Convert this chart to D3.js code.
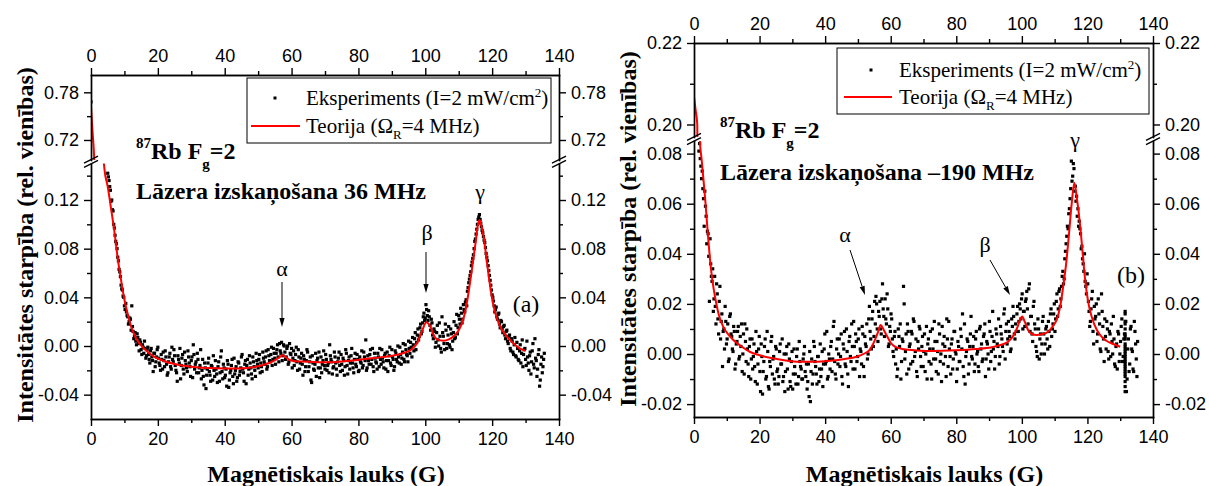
<!DOCTYPE html>
<html>
<head>
<meta charset="utf-8">
<script src="https://cdn.jsdelivr.net/npm/d3@7"></script>
<style>
  body { margin: 0; background: #fff; }
  svg { display: block; }
  text { font-family: "Liberation Serif", "Times New Roman", serif; fill: #000; }
  .tick text { font-family: "Liberation Sans", Arial, sans-serif; font-size: 18px; }
</style>
</head>
<body>
<svg id="fig" width="1209" height="486"></svg>
<script>
// ---------- shared axis ticks ----------
const fieldTicks = [0, 20, 40, 60, 80, 100, 120, 140];
const fieldMinorTicks = [10, 30, 50, 70, 90, 110, 130];

// ---------- panel (a): detuning 36 MHz ----------
const upperTicksA = [0.72, 0.78];
const upperMinorA = [0.75];
const lowerTicksA = [-0.04, 0.00, 0.04, 0.08, 0.12];
const lowerMinorA = [-0.02, 0.02, 0.06, 0.10, 0.14];

// theory curve, [field G, signal]
const theoryA = [
  [0, 0.762], [0.5, 0.728], [1, 0.69], [1.5, 0.56], [2, 0.43], [2.5, 0.32], [3, 0.235], [3.5, 0.168],
  [4, 0.146], [5, 0.131], [6, 0.113], [7, 0.094], [8, 0.072], [9, 0.054], [10, 0.038], [11, 0.026],
  [12, 0.016], [13, 0.009], [14, 0.004], [15, 0.0005], [17, -0.005], [19, -0.009], [22, -0.0125],
  [25, -0.0148], [30, -0.017], [35, -0.018], [40, -0.0184], [44, -0.0184], [48, -0.0176], [51, -0.016],
  [53, -0.0142], [55, -0.0118], [56.5, -0.009], [57.3, -0.0077], [58.3, -0.0092], [59.5, -0.0115],
  [61, -0.0125], [65, -0.0129], [71, -0.0134], [78, -0.012], [85, -0.0098], [90, -0.008], [93, -0.0062],
  [95.5, -0.0035], [97.5, 0.002], [99, 0.012], [100.3, 0.0195], [101.5, 0.016], [102.5, 0.009],
  [103.5, 0.0055], [105.5, 0.0044], [107, 0.0055], [108.5, 0.008], [110, 0.013], [111, 0.019],
  [112, 0.029], [113, 0.045], [114, 0.064], [115, 0.084], [115.7, 0.099], [116.2, 0.1035], [116.8, 0.099],
  [117.5, 0.089], [118.3, 0.072], [119, 0.057], [120, 0.039], [120.5, 0.032], [121.5, 0.022], [123, 0.013],
  [124.5, 0.0075], [126.4, 0.002], [128, -0.0015], [130, -0.004]
];

// two interleaved field sweeps: first field value, field step (G), signal in 1e-3 rel. units
const sweepStartA1 = 5.0, sweepStartA2 = 5.2;
const sweepStepA = 0.4;
const signalA1 = [
  142,136,128,120,111,97,86,80,70,61,
  50,46,40,30,28,24,20,22,33,12,
  8,4,10,2,5,-3,1,-6,-2,-8,
  -1,-11,-4,-9,-21,-6,-13,-3,-10,-16,
  -7,-19,-12,-4,-15,-22,-9,-17,-1,-13,
  -8,-20,-29,-11,-2,-16,-7,-23,-12,-18,
  -4,-14,-25,-9,1,-19,-13,-6,-22,-16,
  -27,-11,-32,-18,-24,-14,-21,-29,-17,-8,
  -25,-19,-30,-13,-22,-4,-27,-18,-24,-33,
  -15,-28,-20,-11,-31,-23,-17,-26,-14,-21,
  -9,-19,-29,-12,-16,-24,-8,-18,-27,-13,
  -20,-6,-15,-11,-22,-17,-5,-13,-9,-19,
  -3,-12,-7,-16,-2,-10,-6,1,-13,-4,
  3,-8,0,-11,-2,-15,2,-7,-18,-4,
  -12,-1,-20,-9,-14,-6,-24,-11,-17,-3,
  -21,-13,-28,-8,-19,-15,-25,-10,-5,-18,
  -22,-12,-16,-7,-20,-14,1,-11,-23,-17,
  -9,-19,-13,-5,-21,-15,-10,-24,-3,-16,
  -12,-19,-8,-14,-22,-6,-17,-11,-20,-13,
  -4,-16,-9,5,-18,-12,-7,-15,-2,-21,
  -10,-14,-6,-17,-11,-3,-13,-8,-19,-5,
  -12,-1,-16,-9,-20,-4,-11,0,-14,-7,
  -10,2,-13,-3,-8,4,-6,-1,7,-4,
  11,3,14,8,18,12,24,21,34,25,
  29,17,22,9,14,-1,11,5,19,-2,
  24,8,-3,13,2,16,-1,10,4,20,
  7,26,15,22,31,19,34,28,38,45,
  52,58,66,72,80,88,96,104,108,101,
  95,90,85,76,70,62,54,46,40,33,
  30,24,26,18,21,14,16,9,12,4,
  8,-2,6,-5,1,-8,3,-11,-4,-14,
  5,-7,-2,-16,-9,-20,-5,-13,2,-18,
  -10,-25,-7,-33,-15,-22,-11
];
const signalA2 = [
  139,131,119,112,100,91,84,73,63,57,
  47,41,33,35,25,18,23,13,16,6,
  11,1,7,-4,3,-7,-1,4,-10,-3,
  -7,-14,-2,-12,-6,-17,-9,-1,-14,-20,
  -11,-5,-17,-9,-24,-13,-6,-19,-11,-3,
  -16,-22,-8,-14,-27,-10,-19,-5,-15,-21,
  -9,-17,-12,-26,-7,-15,-22,-11,-18,-3,
  -20,-25,-14,-35,-19,-10,-24,-16,-28,-20,
  -12,-23,-17,-29,-9,-21,-15,-26,-19,-12,
  -34,-22,-16,-25,-10,-20,-29,-13,-24,-18,
  -7,-22,-15,-31,-11,-19,-14,-23,-9,-17,
  -25,-12,-18,-7,-14,-21,-10,-15,-4,-17,
  -8,-13,-1,-11,-6,-15,-3,-9,2,-6,
  -12,1,-5,-9,0,-13,-6,-2,-10,-16,
  -7,-13,-3,-19,-10,-15,-8,-21,-12,-5,
  -17,-9,-30,-14,-20,-6,-12,-18,-26,-9,
  -15,-4,-19,-11,-16,-22,-8,-13,-18,-5,
  -14,-24,-10,-16,-7,-20,-12,-17,-6,-23,
  -9,-14,-2,-18,-11,-15,-7,-21,-9,-14,
  -18,-5,-12,-20,-8,-15,-3,-11,-17,-6,
  -13,-19,-9,-2,-15,-10,-18,-6,-12,-21,
  -8,-14,-3,-11,-17,-6,-13,-9,-1,-15,
  -5,-11,1,-7,-13,-2,3,-9,1,6,
  -3,9,5,15,10,19,27,23,30,21,
  24,13,19,6,12,3,17,0,8,-5,
  11,2,18,-2,9,1,14,-3,11,6,
  17,10,25,18,27,22,30,36,33,48,
  55,61,69,75,86,92,100,106,104,98,
  93,87,81,73,66,58,50,42,37,28,
  32,22,27,15,20,11,17,6,13,2,
  9,-4,4,-7,7,-9,-2,-12,1,-6,
  -17,-3,-11,4,-14,-8,-23,-4,-15,6,
  -12,-19,-3,-28,-9,-17,-6
];
// points of panel (a) that lie above the axis break, [field G, signal]
const extraPointsA = [[0, 0.768]];

// ---------- panel (b): detuning -190 MHz ----------
const upperTicksB = [0.20, 0.22];
const upperMinorB = [0.21];
const lowerTicksB = [-0.02, 0.00, 0.02, 0.04, 0.06, 0.08];
const lowerMinorB = [-0.01, 0.01, 0.03, 0.05, 0.07];

const theoryB = [
  [0, 0.2068], [0.5, 0.2035], [1, 0.2], [1.3, 0.16], [1.8, 0.085], [2.3, 0.078], [2.8, 0.0708],
  [3.4, 0.062], [3.9, 0.0535], [4.4, 0.045], [4.9, 0.0375], [5.6, 0.0295], [6.4, 0.0229], [7.5, 0.016],
  [8.9, 0.0109], [10.5, 0.0077], [12, 0.0056], [14.5, 0.003], [17, 0.0009], [20, -0.0005], [24, -0.0017],
  [28, -0.0026], [32, -0.0031], [37, -0.0031], [41.5, -0.0027], [46, -0.002], [49.6, -0.0011], [52, 0.0002],
  [53.5, 0.0015], [55.2, 0.0056], [56.2, 0.009], [56.9, 0.0116], [57.8, 0.0098], [58.7, 0.0076], [60, 0.0045],
  [61.3, 0.0029], [64, 0.0019], [68, 0.0014], [72, 0.0012], [80, 0.0015], [86, 0.002], [90.8, 0.0027],
  [94, 0.0038], [95.8, 0.0049], [97.5, 0.0075], [98.6, 0.0105], [99.5, 0.0138], [100.1, 0.015],
  [100.9, 0.0128], [101.9, 0.0096], [103, 0.008], [104.5, 0.0076], [106, 0.0079], [108, 0.0089],
  [109.5, 0.0112], [110.6, 0.0136], [111.7, 0.019], [112.6, 0.0269], [113.5, 0.036], [114.3, 0.0468],
  [115.2, 0.06], [116, 0.0684], [116.8, 0.062], [117.7, 0.0522], [118.5, 0.041], [119.2, 0.0309],
  [120.2, 0.021], [121.3, 0.0149], [122.8, 0.0098], [124.3, 0.0069], [125.8, 0.0053], [127.3, 0.0043],
  [130, 0.0029]
];

const sweepStartB1 = 1.5, sweepStartB2 = 1.7;
const sweepStepB = 0.4;
const signalB1 = [
  81,78,70,66,51,59,44,48,21,36,
  29,17,31,12,24,8,27,13,-5,10,
  19,4,12,-2,16,7,1,9,-4,5,
  11,-1,3,-7,8,12,-3,2,-9,6,
  -2,-6,4,-11,1,-4,7,-15,-1,-7,
  3,-10,9,-13,-3,5,-8,-1,-12,2,
  -6,-9,4,-4,-11,0,-7,3,-14,-2,
  -13,1,-8,-5,-12,2,-9,-3,-6,-10,
  0,-7,-4,-11,-17,-19,-2,-8,3,-5,
  -12,-1,-6,-9,1,-4,8,-3,-10,0,
  -6,5,-2,13,-8,2,-4,6,-1,-9,
  4,9,-5,1,-13,7,-3,3,13,-6,
  5,-1,10,2,-4,8,-9,4,12,0,
  19,6,14,3,21,23,10,17,21,8,
  28,15,22,12,18,4,9,14,1,7,
  -4,-9,10,3,-10,6,27,-2,8,12,
  -6,4,9,-3,13,1,-7,5,11,-1,
  3,-5,8,0,-10,6,2,-4,10,-2,
  5,-7,1,12,-3,-11,4,7,-1,14,
  -5,2,-8,6,-2,9,0,-6,3,-3,
  7,16,-9,-12,1,5,-4,8,-1,3,
  -7,6,0,-5,10,2,-3,7,12,-2,
  4,-6,9,1,17,5,-1,8,3,-4,
  11,6,1,18,9,4,13,7,2,11,
  15,6,9,19,13,18,22,10,17,21,
  25,12,28,15,8,19,12,3,-1,10,
  6,0,13,8,4,11,2,9,16,7,
  12,20,14,24,18,26,22,31,28,38,
  44,51,56,62,77,71,74,67,63,58,
  53,48,43,36,40,27,32,21,11,18,
  25,4,14,20,8,16,2,24,11,-3,
  7,13,1,9,-1,5,15,-4,3,-6,
  8,0,11,-3,6,17,-15,2,-7,10,
  2,-6,13,4,-9
];
const signalB2 = [
  84,75,73,62,65,55,49,39,46,31,
  34,22,19,28,14,21,6,16,9,2,
  13,6,-3,15,8,2,11,-6,4,9,
  -2,7,12,0,-8,5,10,-4,3,-10,
  6,-1,-5,9,-12,2,-7,4,-16,-3,
  6,-9,1,-14,-5,7,-2,-10,3,-7,
  -12,1,-4,6,-9,-15,0,-6,4,-11,
  -3,-14,2,-8,-1,-12,5,-5,-10,-2,
  3,-9,-14,-4,1,-7,-12,5,-3,-8,
  -1,-11,4,-6,-13,2,-4,9,-9,-2,
  3,-7,11,-3,-10,6,0,-5,8,-12,
  2,-4,10,-8,5,-1,12,-6,3,8,
  -3,6,-9,1,11,-5,7,3,-2,14,
  9,2,17,7,12,20,5,15,10,22,
  18,7,14,24,3,11,16,6,-1,9,
  2,-6,7,12,-3,5,20,1,-8,9,
  3,-4,8,14,-1,6,-9,2,10,-5,
  7,1,-7,11,4,-3,9,-10,2,13,
  -2,5,-8,8,0,11,-4,3,-9,6,
  13,-1,4,-6,9,1,-11,5,-3,10,
  2,-5,12,-1,6,-8,3,15,-2,7,
  -4,9,1,-7,11,4,-2,8,-9,5,
  0,13,-3,7,2,-6,10,4,14,-1,
  8,3,16,-2,12,6,9,1,14,19,
  8,12,16,9,20,14,24,17,11,22,
  18,26,9,15,5,21,10,1,14,-2,
  8,4,15,0,10,6,13,3,18,10,
  16,9,21,15,25,19,27,33,30,41,
  47,50,58,66,69,76,65,61,55,51,
  50,42,38,33,29,24,28,17,13,22,
  9,19,15,5,22,12,1,17,6,14,
  2,10,-2,8,12,0,6,-5,4,9,
  -3,5,14,-1,8,13,-10,6,-4,11,
  1,-7,9,-2,5
];
// repeated readings taken at a single field value near the end of the sweep
const columnFieldB = 131.5;
const columnSignalB = [16,13,10,8,6,4,3,1,0,-1,-2,-4,-5,-6,-8,-9,-11,-13,12,7,2,-3,-7,-15];

const signalUnit = 1e-3;

const sweepPoints = (signal, start, step) => signal.map((v, i) => [start + i * step, v * signalUnit]);
const pointsA = sweepPoints(signalA1, sweepStartA1, sweepStepA)
  .concat(sweepPoints(signalA2, sweepStartA2, sweepStepA), extraPointsA);
const pointsB = sweepPoints(signalB1, sweepStartB1, sweepStepB)
  .concat(sweepPoints(signalB2, sweepStartB2, sweepStepB), columnSignalB.map(v => [columnFieldB, v * signalUnit]));

// ---------- drawing ----------
const svg = d3.select("#fig");
const defs = svg.append("defs");
const fmt2 = v => v.toFixed(2);
const markerSize = 3.2;

function styleAxis(sel) {
  sel.selectAll("path, line").attr("stroke", "#000").attr("stroke-width", 1.4);
  sel.select(".domain").attr("stroke-linecap", "square");
}

function drawPanel(p) {
  const g = svg.append("g");
  const x = d3.scaleLinear().domain([0, 140]).range([p.left, p.right]);
  const yU = d3.scaleLinear().domain(p.upperDomain).range([p.upperBottom, p.top]);
  const yL = d3.scaleLinear().domain(p.lowerDomain).range([p.bottom, p.lowerTop]);

  defs.append("clipPath").attr("id", "clipU-" + p.id).append("rect")
    .attr("x", p.left).attr("y", p.top).attr("width", p.right - p.left).attr("height", p.upperBottom - p.top);
  defs.append("clipPath").attr("id", "clipL-" + p.id).append("rect")
    .attr("x", p.left).attr("y", p.lowerTop).attr("width", p.right - p.left).attr("height", p.bottom - p.lowerTop);

  // data in each axis segment
  [[yU, "clipU-"], [yL, "clipL-"]].forEach(([y, c]) => {
    const layer = g.append("g").attr("clip-path", `url(#${c}${p.id})`);
    layer.selectAll("rect").data(p.points).join("rect")
      .attr("x", d => x(d[0]) - markerSize / 2).attr("y", d => y(d[1]) - markerSize / 2)
      .attr("width", markerSize).attr("height", markerSize).attr("fill", "#000");
    layer.append("path").datum(p.theory)
      .attr("d", d3.line().x(d => x(d[0])).y(d => y(d[1])).curve(d3.curveMonotoneX))
      .attr("fill", "none").attr("stroke", "#ff0000").attr("stroke-width", 2);
  });

  // horizontal axes
  g.append("g").attr("transform", `translate(0,${p.bottom})`)
    .call(d3.axisBottom(x).tickValues(fieldMinorTicks).tickSize(4).tickSizeOuter(0).tickFormat(""))
    .call(styleAxis);
  g.append("g").attr("transform", `translate(0,${p.bottom})`)
    .call(d3.axisBottom(x).tickValues(fieldTicks).tickSize(7).tickSizeOuter(0).tickPadding(6).tickFormat(d3.format("d")))
    .call(styleAxis);
  g.append("g").attr("transform", `translate(0,${p.top})`)
    .call(d3.axisTop(x).tickValues(fieldMinorTicks).tickSize(4).tickSizeOuter(0).tickFormat(""))
    .call(styleAxis);
  g.append("g").attr("transform", `translate(0,${p.top})`)
    .call(d3.axisTop(x).tickValues(fieldTicks).tickSize(7).tickSizeOuter(0).tickPadding(6).tickFormat(d3.format("d")))
    .call(styleAxis);

  // vertical axes, two segments each side
  [[p.left, d3.axisLeft], [p.right, d3.axisRight]].forEach(([ax, mk]) => {
    [[yU, p.upperTicks, p.upperMinor], [yL, p.lowerTicks, p.lowerMinor]].forEach(([y, major, minor]) => {
      g.append("g").attr("transform", `translate(${ax},0)`)
        .call(mk(y).tickValues(minor).tickSize(4).tickSizeOuter(0).tickFormat(""))
        .call(styleAxis);
      g.append("g").attr("transform", `translate(${ax},0)`)
        .call(mk(y).tickValues(major).tickSize(7).tickSizeOuter(0).tickPadding(5).tickFormat(fmt2))
        .call(styleAxis);
    });
    // axis break marks
    const yb = (p.upperBottom + p.lowerTop) / 2;
    [-2.2, 2.2].forEach(o => {
      g.append("line")
        .attr("x1", ax - 7).attr("y1", yb + o + 3.5)
        .attr("x2", ax + 7).attr("y2", yb + o - 3.5)
        .attr("stroke", "#000").attr("stroke-width", 1.3);
    });
  });

  // axis titles
  g.append("text")
    .attr("transform", `translate(${p.yTitleX},${p.yTitleY}) rotate(-90)`)
    .attr("text-anchor", "middle").attr("font-size", 24).attr("font-weight", "bold")
    .text("Intensitātes starpība (rel. vienības)");
  g.append("text")
    .attr("x", (p.left + p.right) / 2 + p.xTitleShift).attr("y", 482)
    .attr("text-anchor", "middle").attr("font-size", 24).attr("font-weight", "bold")
    .text("Magnētiskais lauks (G)");

  // legend
  const lg = g.append("g");
  lg.append("rect").attr("x", p.legend.x).attr("y", p.legend.y).attr("width", p.legend.w).attr("height", p.legend.h)
    .attr("fill", "#fff").attr("stroke", "#000").attr("stroke-width", 1);
  const r1 = p.legend.y + p.legend.row1, r2 = p.legend.y + p.legend.row2;
  lg.append("rect").attr("x", p.legend.sym - 1.5).attr("y", r1 - 1.5).attr("width", 3).attr("height", 3).attr("fill", "#000");
  lg.append("line").attr("x1", p.legend.line0).attr("x2", p.legend.line1).attr("y1", r2).attr("y2", r2)
    .attr("stroke", "#ff0000").attr("stroke-width", 2);
  const t1 = lg.append("text").attr("x", p.legend.text).attr("y", r1 + 7).attr("font-size", 21);
  t1.append("tspan").text("Eksperiments (I=2 mW/cm");
  t1.append("tspan").attr("font-size", 13).attr("dy", -8).text("2");
  t1.append("tspan").attr("dy", 8).text(")");
  const t2 = lg.append("text").attr("x", p.legend.text).attr("y", r2 + 7).attr("font-size", 21);
  t2.append("tspan").text("Teorija (Ω");
  t2.append("tspan").attr("font-size", 13).attr("dy", 6).text("R");
  t2.append("tspan").attr("dy", -6).text("=4 MHz)");

  // sample description
  const rb = g.append("text").attr("x", p.rbX).attr("y", p.rbY).attr("font-size", 24).attr("font-weight", "bold");
  rb.append("tspan").attr("font-size", 15).attr("dy", -11).text("87");
  rb.append("tspan").attr("dy", 11).text("Rb F");
  rb.append("tspan").attr("font-size", 15).attr("dy", 10).text("g");
  rb.append("tspan").attr("dy", -10).text("=2");
  g.append("text").attr("x", p.rbX).attr("y", p.detY).attr("font-size", 24).attr("font-weight", "bold")
    .text(p.detuning);

  // peak labels and arrows
  p.peaks.forEach(k => {
    g.append("text").attr("x", k.tx).attr("y", k.ty).attr("text-anchor", "middle").attr("font-size", 22).text(k.label);
    if (k.arrow) {
      const [x1, y1, x2, y2] = k.arrow;
      const ang = Math.atan2(y2 - y1, x2 - x1);
      const L = 9, W = 2.6;
      const bx = x2 - L * Math.cos(ang), by = y2 - L * Math.sin(ang);
      g.append("line").attr("x1", x1).attr("y1", y1).attr("x2", bx).attr("y2", by)
        .attr("stroke", "#000").attr("stroke-width", 1);
      g.append("path")
        .attr("d", `M${x2},${y2}L${bx - W * Math.sin(ang)},${by + W * Math.cos(ang)}L${bx + W * Math.sin(ang)},${by - W * Math.cos(ang)}Z`)
        .attr("fill", "#000");
    }
  });
  g.append("text").attr("x", p.tag.x).attr("y", p.tag.y).attr("text-anchor", "middle").attr("font-size", 24).text(p.tag.text);
}

drawPanel({
  id: "a", left: 91, right: 559, top: 75, bottom: 419, upperBottom: 160, lowerTop: 163.5,
  upperDomain: [0.6948, 0.8018], lowerDomain: [-0.06, 0.15],
  upperTicks: upperTicksA, upperMinor: upperMinorA, lowerTicks: lowerTicksA, lowerMinor: lowerMinorA,
  points: pointsA, theory: theoryA,
  yTitleX: 33, yTitleY: 245, xTitleShift: 1,
  legend: { x: 247, y: 78, w: 304, h: 65, row1: 20, row2: 48, sym: 275, line0: 251, line1: 300, text: 306 },
  rbX: 136, rbY: 159, detY: 199, detuning: "Lāzera izskaņošana 36 MHz",
  peaks: [
    { label: "α", tx: 282, ty: 276, arrow: [282, 282, 282, 327] },
    { label: "β", tx: 427, ty: 240, arrow: [426, 252, 426, 293] },
    { label: "γ", tx: 480, ty: 199 }
  ],
  tag: { text: "(a)", x: 526, y: 312 }
});

drawPanel({
  id: "b", left: 694, right: 1153, top: 43, bottom: 417, upperBottom: 137, lowerTop: 141,
  upperDomain: [0.19693, 0.22], lowerDomain: [-0.02515, 0.08503],
  upperTicks: upperTicksB, upperMinor: upperMinorB, lowerTicks: lowerTicksB, lowerMinor: lowerMinorB,
  points: pointsB, theory: theoryB,
  yTitleX: 636, yTitleY: 229, xTitleShift: 1,
  legend: { x: 837, y: 48, w: 312, h: 66, row1: 22, row2: 49, sym: 871, line0: 844, line1: 892, text: 899 },
  rbX: 720, rbY: 138, detY: 180, detuning: "Lāzera izskaņošana –190 MHz",
  peaks: [
    { label: "α", tx: 845, ty: 242, arrow: [850, 250, 865, 295] },
    { label: "β", tx: 985, ty: 252, arrow: [990, 260, 1010, 295] },
    { label: "γ", tx: 1075, ty: 147 }
  ],
  tag: { text: "(b)", x: 1131, y: 283 }
});
</script>
</body>
</html>
